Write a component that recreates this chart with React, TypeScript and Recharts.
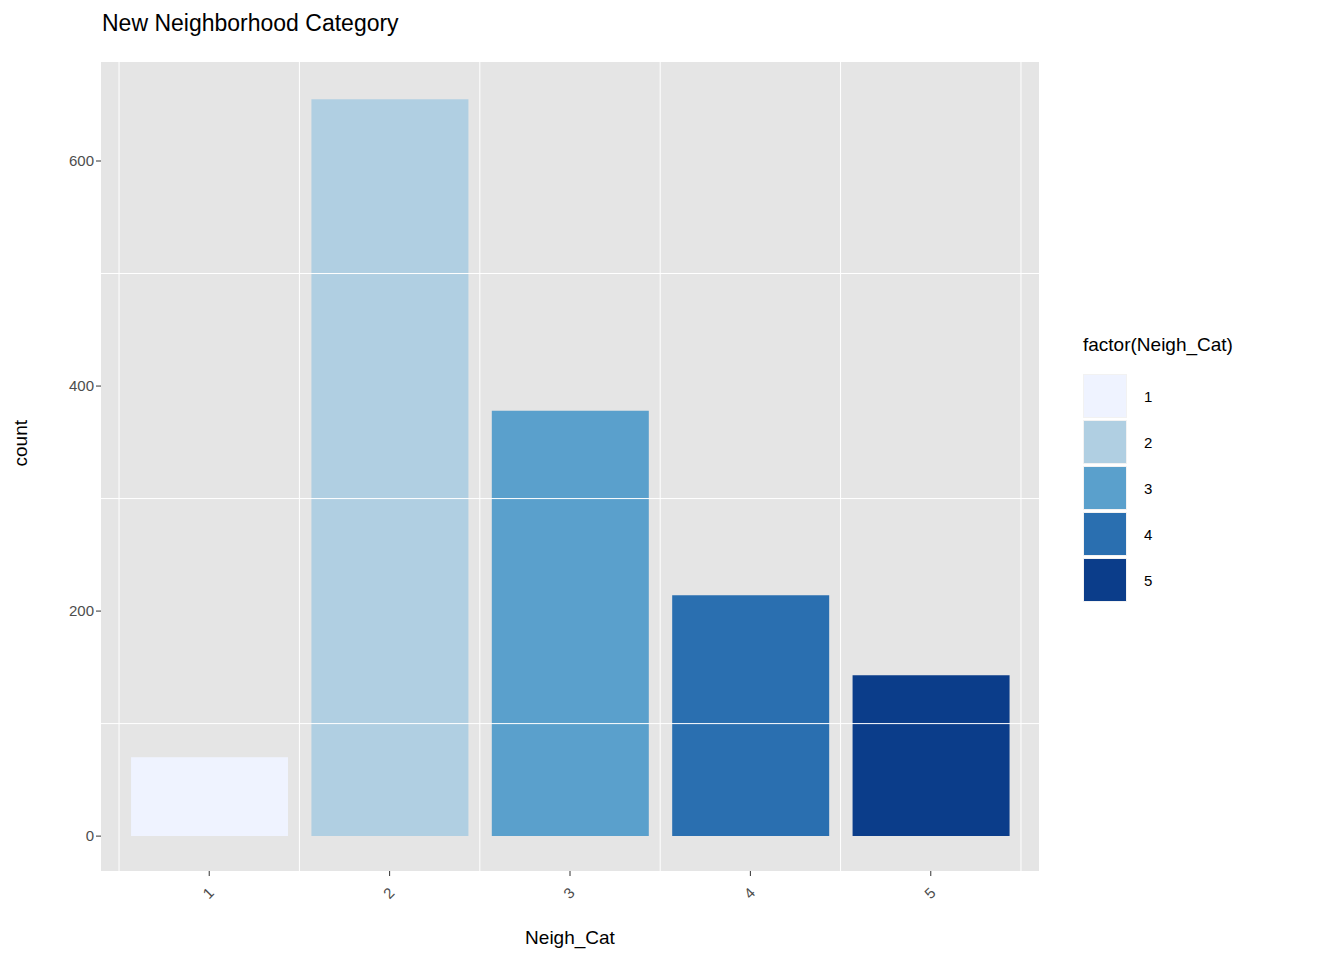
import { BarChart, Bar, XAxis, YAxis, CartesianGrid, Cell, ReferenceLine } from "recharts";

const categories = [1, 2, 3, 4, 5];
const counts = [70, 655, 378, 214, 143];
const colors = ["#eff3ff", "#b0cfe2", "#5aa0cc", "#2a6fb0", "#0b3d8a"];
const yTicks = [0, 200, 400, 600];
const yMinor = [100, 300, 500];
const xMinor = [0.5, 1.5, 2.5, 3.5, 4.5, 5.5];

const data = categories.map((c, i) => ({ cat: c, count: counts[i] }));
const font = "'Liberation Sans', Arial, sans-serif";

const XTick = (props: any) => {
  const { x, y, payload } = props;
  return (
    <g transform={`translate(${x},${y + 16})`}>
      <text transform="rotate(-45)" textAnchor="middle" dominantBaseline="middle" fontSize={15} fill="#4d4d4d" fontFamily={font}>
        {payload.value}
      </text>
    </g>
  );
};

export default function App() {
  return (
    <div style={{ position: "relative", width: 1344, height: 960, margin: -8, background: "#fff", fontFamily: font }}>
      <div style={{ position: "absolute", left: 102, top: 10, fontSize: 23, color: "#000" }}>New Neighborhood Category</div>
      <BarChart width={1344} height={960} data={data} margin={{ top: 62, right: 305, bottom: 0, left: 0 }}>
        <rect x={101} y={62} width={938} height={809} fill="#e5e5e5" />
        {yMinor.map((v) => (
          <ReferenceLine key={"ym" + v} y={v} stroke="#fff" strokeWidth={1} />
        ))}
        {xMinor.map((v) => (
          <ReferenceLine key={"xm" + v} x={v} stroke="#fff" strokeWidth={1} />
        ))}
        <CartesianGrid stroke="#fff" strokeWidth={2} />
        <XAxis
          dataKey="cat"
          type="number"
          domain={[0.4, 5.6]}
          ticks={categories}
          height={89}
          tick={<XTick />}
          tickLine={{ stroke: "#333" }}
          tickSize={5}
          axisLine={false}
          label={{ value: "Neigh_Cat", position: "insideBottom", offset: 16, fontSize: 19, fill: "#000", fontFamily: font }}
        />
        <YAxis
          type="number"
          domain={[-31, 688]}
          ticks={yTicks}
          width={101}
          tick={{ fontSize: 15, fill: "#4d4d4d", fontFamily: font }}
          tickLine={{ stroke: "#333" }}
          tickSize={5}
          axisLine={false}
          label={{ value: "count", angle: -90, position: "insideLeft", offset: 20, fontSize: 19, fill: "#000", fontFamily: font }}
        />
        <Bar dataKey="count" barSize={157} isAnimationActive={false}>
          {data.map((d, i) => (
            <Cell key={d.cat} fill={colors[i]} />
          ))}
        </Bar>
      </BarChart>
      <div style={{ position: "absolute", left: 1083, top: 334, fontSize: 19 }}>factor(Neigh_Cat)</div>
      {categories.map((c, i) => (
        <div key={c} style={{ position: "absolute", left: 1083, top: 374 + i * 46, display: "flex", alignItems: "center" }}>
          <div style={{ width: 44, height: 44, background: colors[i], border: "1px solid #f2f2f2", boxSizing: "border-box" }} />
          <span style={{ marginLeft: 17, fontSize: 15 }}>{c}</span>
        </div>
      ))}
    </div>
  );
}
